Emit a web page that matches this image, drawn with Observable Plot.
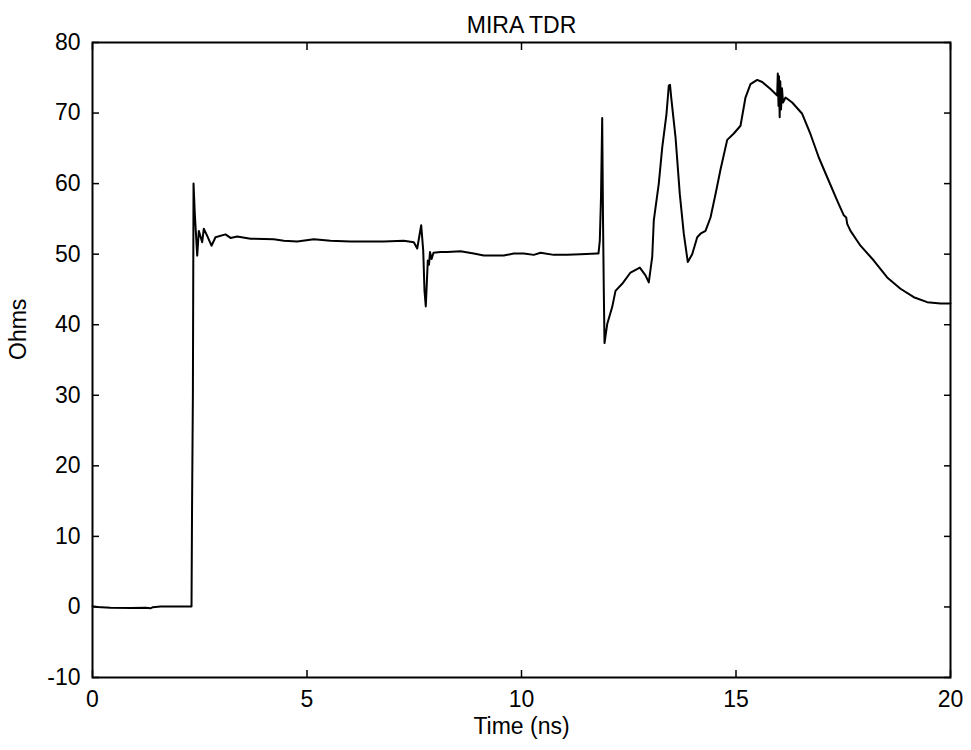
<!DOCTYPE html>
<html>
<head>
<meta charset="utf-8">
<script src="https://cdn.jsdelivr.net/npm/d3@7"></script>
<script src="https://cdn.jsdelivr.net/npm/@observablehq/plot@0.6"></script>
<style>
  html, body { margin: 0; padding: 0; background: #fff; }
</style>
</head>
<body>
<div id="chart"></div>
<script>
const title = "MIRA TDR";
const xLabel = "Time (ns)";
const yLabel = "Ohms";
const xTicks = [0, 5, 10, 15, 20];
const yTicks = [-10, 0, 10, 20, 30, 40, 50, 60, 70, 80];

const timeNs = [
  0, 0.11, 0.42, 0.89, 1.24, 1.35, 1.40, 1.59, 2.308,
  2.32, 2.34, 2.355, 2.385, 2.441, 2.478, 2.557, 2.594, 2.674, 2.774, 2.867,
  3.100, 3.217, 3.373, 3.683, 4.226, 4.459, 4.772, 5.159, 5.548, 6.014,
  6.790, 7.256, 7.490, 7.569, 7.662, 7.709, 7.739, 7.769, 7.816, 7.844,
  7.867, 7.879, 7.902, 7.949, 8.112, 8.268, 8.578, 8.888, 9.121, 9.587,
  9.820, 10.054, 10.287, 10.443, 10.753, 11.065, 11.375, 11.765, 11.795, 11.825,
  11.853, 11.881, 11.900, 11.918, 11.935, 11.998, 12.114, 12.191, 12.347, 12.541,
  12.758, 12.890, 12.967, 13.047, 13.084, 13.200, 13.280, 13.380, 13.434, 13.462,
  13.490, 13.590, 13.690, 13.783, 13.876, 13.979, 14.096, 14.172, 14.289, 14.406,
  14.522, 14.639, 14.795, 14.949, 15.105, 15.221, 15.338, 15.494, 15.611, 15.804,
  15.960, 15.974, 15.991, 16.002, 16.018, 16.032, 16.049, 16.072, 16.096, 16.154,
  16.310, 16.543, 16.737, 16.930, 17.126, 17.359, 17.513, 17.569, 17.592, 17.669,
  17.902, 18.212, 18.524, 18.834, 19.145, 19.457, 19.767, 20.0
];
const ohms = [
  0.1, 0.0, -0.1, -0.15, -0.1, -0.2, -0.05, 0.05, 0.05,
  13.6, 30, 60.0, 55.7, 49.8, 53.3, 51.7, 53.6, 52.6, 51.2, 52.4,
  52.8, 52.3, 52.5, 52.2, 52.1, 51.9, 51.8, 52.1, 51.9, 51.8,
  51.8, 51.9, 51.7, 50.8, 54.1, 50.5, 44.8, 42.6, 49.1, 48.5,
  50.3, 50.0, 49.3, 50.2, 50.3, 50.3, 50.4, 50.1, 49.8, 49.8,
  50.1, 50.1, 49.9, 50.2, 49.9, 49.9, 50.0, 50.1, 50.1, 51.9,
  58, 69.3, 55, 45, 37.4, 40.1, 42.5, 44.8, 45.8, 47.4,
  48.1, 47.0, 46.0, 49.6, 54.8, 60.0, 65.1, 69.9, 73.9, 74.0,
  72.2, 66.6, 58.5, 52.9, 48.9, 50.0, 52.4, 52.9, 53.3, 55.2,
  58.5, 62.0, 66.2, 67.1, 68.2, 72.2, 74.1, 74.7, 74.4, 73.4,
  72.5, 75.6, 71, 75.2, 69.4, 74.5, 70.5, 73.5, 71.5, 72.2,
  71.5, 69.9, 67.0, 63.7, 60.9, 57.6, 55.5, 55.2, 54.3, 53.3,
  51.2, 49.1, 46.7, 45.1, 43.9, 43.2, 43.0, 43.0
];

const data = timeNs.map((t, i) => ({t, v: ohms[i]}));
const fmt = d => String(d);

const chart = Plot.plot({
  width: 971,
  height: 750,
  marginTop: 42,
  marginRight: 21,
  marginBottom: 73,
  marginLeft: 92,
  style: {fontFamily: "'Liberation Sans', Arial, sans-serif", fontSize: "24px", color: "#000", background: "#fff"},
  x: {domain: [0, 20]},
  y: {domain: [-10, 80]},
  marks: [
    Plot.line(data, {x: "t", y: "v", stroke: "#000", strokeWidth: 2, curve: "linear"}),
    Plot.frame({stroke: "#000", strokeWidth: 2}),
    Plot.axisX(xTicks, {anchor: "bottom", tickSize: -7, tickPadding: 20, tickFormat: fmt, label: null, stroke: "#000", fill: "#000", strokeWidth: 1.5, fontSize: 23}),
    Plot.axisX(xTicks, {anchor: "top", tickSize: -7, tickFormat: () => "", label: null, stroke: "#000", strokeWidth: 1.5}),
    Plot.axisY(yTicks, {anchor: "left", tickSize: -7, tickPadding: 19, tickFormat: fmt, label: null, stroke: "#000", fill: "#000", strokeWidth: 1.5, fontSize: 23}),
    Plot.axisY(yTicks, {anchor: "right", tickSize: -7, tickFormat: () => "", label: null, stroke: "#000", strokeWidth: 1.5}),
    Plot.text([title], {frameAnchor: "top", dy: -26, text: d => d, fill: "#000", fontSize: 23}),
    Plot.text([xLabel], {frameAnchor: "bottom", dy: 56, text: d => d, fill: "#000", fontSize: 23}),
    Plot.text([yLabel], {frameAnchor: "left", dx: -74, rotate: -90, text: d => d, fill: "#000", fontSize: 23})
  ]
});
document.getElementById("chart").appendChild(chart);
</script>
</body>
</html>
